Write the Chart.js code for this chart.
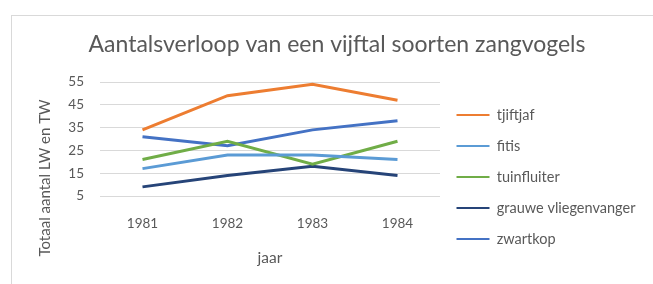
<!DOCTYPE html>
<html>
<head>
<meta charset="utf-8">
<script src="https://cdn.jsdelivr.net/npm/chart.js@4/dist/chart.umd.min.js"></script>
<style>
  html, body { margin: 0; padding: 0; background: #fff; overflow: hidden; }
  #frame { position: absolute; left: 11px; top: 15px; width: 700px; height: 300px;
           border-left: 1px solid #d9d9d9; border-top: 1px solid #d9d9d9; }
  #chart-div { position: absolute; left: 0; top: 0; width: 653px; height: 284px; }
</style>
</head>
<body>
<div id="frame"></div>
<div id="chart-div"><canvas id="bird-chart" width="653" height="284"></canvas></div>
<script>
const years = ['1981', '1982', '1983', '1984'];
const tjiftjaf = [34, 49, 54, 47];
const fitis = [17, 23, 23, 21];
const tuinfluiter = [21, 29, 19, 29];
const grauweVliegenvanger = [9, 14, 18, 14];
const zwartkop = [31, 27, 34, 38];

const textGray = '#595959';
const fontFam = 'Lato, "Open Sans", sans-serif';

// y axis title is drawn by hand, Excel puts it lower than Chart.js would
const yTitlePlugin = {
    id: 'yTitle',
    afterDraw(chart) {
        const ctx = chart.ctx;
        ctx.save();
        ctx.translate(45, 178);
        ctx.rotate(-Math.PI / 2);
        ctx.font = '15px ' + fontFam;
        ctx.fillStyle = textGray;
        ctx.textAlign = 'center';
        ctx.textBaseline = 'middle';
        ctx.fillText('Totaal aantal LW en TW', 0, 0);
        ctx.restore();
    }
};

function line(label, data, color) {
    return { label: label, data: data, borderColor: color, backgroundColor: color,
             borderWidth: 3, pointRadius: 0, fill: false, tension: 0 };
}

let padLeft = 20;
const ctx = document.getElementById('bird-chart').getContext('2d');
const chart = new Chart(ctx, {
    type: 'line',
    data: { labels: years, datasets: [
        line('tjiftjaf', tjiftjaf, '#ED7D31'),
        line('fitis', fitis, '#5B9BD5'),
        line('tuinfluiter', tuinfluiter, '#70AD47'),
        line('grauwe vliegenvanger', grauweVliegenvanger, '#264478'),
        line('zwartkop', zwartkop, '#4472C4')
    ]},
    options: {
        responsive: false, animation: false,
        layout: { padding: { left: padLeft, right: 0, top: 0, bottom: 14 } },
        plugins: {
            title: { display: true, text: 'Aantalsverloop van een vijftal soorten zangvogels',
                     color: textGray, font: { family: fontFam, size: 23, weight: 'normal' },
                     padding: { top: 31, bottom: 23.4 } },
            legend: { position: 'right', maxWidth: 400,
                      title: { display: true, text: '', font: { size: 10 }, padding: { top: 72, bottom: 0 } },
                      labels: { boxWidth: 33, boxHeight: 0, padding: 16.5,
                                color: textGray, font: { family: fontFam, size: 14.5 },
                                generateLabels: (c) => Chart.defaults.plugins.legend.labels.generateLabels(c)
                                    .map(item => Object.assign(item, { lineWidth: 2 })) } },
            tooltip: { enabled: false }
        },
        scales: {
            x: { offset: true,
                 afterFit: (scale) => { scale.height = 74; },
                 grid: { display: false, drawTicks: false },
                 border: { display: false },
                 ticks: { color: textGray, padding: 20, font: { family: fontFam, size: 13.5 } },
                 title: { display: true, text: 'jaar', color: textGray,
                          font: { family: fontFam, size: 15.5 }, padding: { top: 4, bottom: 2.7 } } },
            y: { min: 5, max: 55,
                 afterFit: (scale) => { scale.width = 100 - padLeft; },
                 grid: { color: '#d9d9d9', drawTicks: false },
                 border: { display: false },
                 ticks: { stepSize: 10, color: textGray, padding: 16, font: { family: fontFam, size: 13.5 } } }
        }
    },
    plugins: [yTitlePlugin]
});

// put the legend so the plot ends near x=440, and centre the title like the Excel frame
const padRight = 653 - 440 - chart.legend.width;
padLeft = 21 + padRight;
chart.options.layout.padding.right = padRight;
chart.options.layout.padding.left = padLeft;
chart.update();
</script>
</body>
</html>
